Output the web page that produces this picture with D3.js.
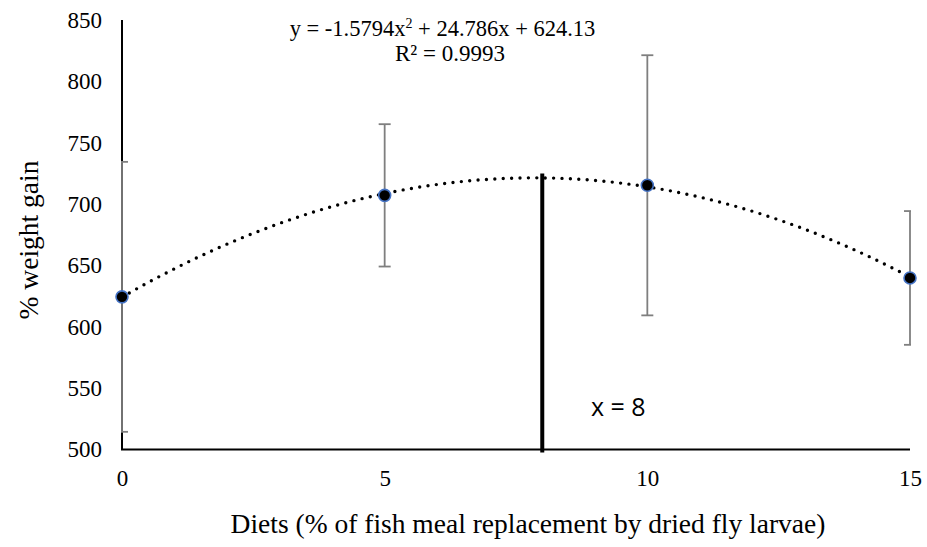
<!DOCTYPE html>
<html><head><meta charset="utf-8">
<script src="https://cdn.jsdelivr.net/npm/d3@7"></script>
<style>body{margin:0;background:#fff}svg{display:block}</style>
</head><body>
<svg id="chart" width="927" height="547"></svg>
<script>
const diets = [0, 5, 10, 15];
const weightGain = [624.4, 707.1, 715.3, 639.8];
const errorSD = [110, 58, 106, 54.5];
const xTicks = [0, 5, 10, 15];
const yTicks = [500, 550, 600, 650, 700, 750, 800, 850];
const trendCoef = [-1.5794, 24.786, 624.13];
const optimumX = 8;
const eqText = "y = -1.5794x";
const r2Text = "R² = 0.9993";

const svg = d3.select("#chart");
const x = d3.scaleLinear().domain([0, 15]).range([122, 910]);
const y = d3.scaleLinear().domain([500, 850]).range([449.5, 20]);
const serif = "'Liberation Serif','Times New Roman',serif";

svg.append("defs").append("clipPath").attr("id", "plotclip").append("rect")
  .attr("x", x(0) - 1).attr("y", 0).attr("width", x(15) - x(0) + 2).attr("height", 547);

// y tick labels
const yAxis = d3.axisLeft(y).tickValues(yTicks).tickSize(0).tickPadding(20);
const gy = svg.append("g").attr("transform", "translate(122,0)").call(yAxis);
gy.select(".domain").remove();
gy.selectAll("text").attr("font-family", serif).attr("font-size", 23).attr("fill", "#000");

// x tick labels
const xAxis = d3.axisBottom(x).tickValues(xTicks).tickSize(0).tickPadding(20);
const gx = svg.append("g").attr("transform", "translate(0,449.5)").call(xAxis);
gx.select(".domain").remove();
gx.selectAll("text").attr("font-family", serif).attr("font-size", 23).attr("fill", "#000");

// axes lines
svg.append("line").attr("x1", x(0)).attr("x2", x(0)).attr("y1", y(850)).attr("y2", y(500))
  .attr("stroke", "#000").attr("stroke-width", 2);
svg.append("line").attr("x1", x(0) - 1).attr("x2", x(15)).attr("y1", y(500)).attr("y2", y(500))
  .attr("stroke", "#000").attr("stroke-width", 2);

// vertical optimum line
const trend = v => trendCoef[0] * v * v + trendCoef[1] * v + trendCoef[2];
svg.append("line").attr("x1", x(optimumX)).attr("x2", x(optimumX))
  .attr("y1", y(trend(optimumX)) - 4.5).attr("y2", y(500) + 3)
  .attr("stroke", "#000").attr("stroke-width", 4);

// error bars
const eb = svg.append("g").attr("stroke", "#7f7f7f").attr("stroke-width", 1.8)
  .attr("clip-path", "url(#plotclip)");
diets.forEach((d, i) => {
  const cx = x(d), top = y(weightGain[i] + errorSD[i]), bot = y(weightGain[i] - errorSD[i]);
  eb.append("line").attr("x1", cx).attr("x2", cx).attr("y1", top).attr("y2", bot);
  eb.append("line").attr("x1", cx - 6).attr("x2", cx + 6).attr("y1", top).attr("y2", top);
  eb.append("line").attr("x1", cx - 6).attr("x2", cx + 6).attr("y1", bot).attr("y2", bot);
});

// trendline
const xs = d3.range(0, 15.001, 0.1);
svg.append("path").datum(xs)
  .attr("d", d3.line().x(v => x(v)).y(v => y(trend(v))))
  .attr("fill", "none").attr("stroke", "#000").attr("stroke-width", 3.4)
  .attr("stroke-linecap", "round").attr("stroke-dasharray", "0 8.4");

// points
svg.append("g").selectAll("circle").data(diets).join("circle")
  .attr("cx", d => x(d)).attr("cy", (d, i) => y(weightGain[i])).attr("r", 6)
  .attr("fill", "#000").attr("stroke", "#4472C4").attr("stroke-width", 1.6);

// equation
const eq = svg.append("text").attr("x", 442.5).attr("y", 36).attr("text-anchor", "middle")
  .attr("font-family", serif).attr("font-size", 22.5).attr("fill", "#000");
eq.append("tspan").text(eqText);
eq.append("tspan").attr("dy", -8).attr("font-size", 14).text("2");
eq.append("tspan").attr("dy", 8).text(" + 24.786x + 624.13");
svg.append("text").attr("x", 450).attr("y", 61).attr("text-anchor", "middle")
  .attr("font-family", serif).attr("font-size", 23).attr("fill", "#000").text(r2Text);

// x = 8 label
svg.append("text").attr("x", 591).attr("y", 416)
  .attr("font-family", "'Open Sans','Liberation Sans',sans-serif").attr("font-size", 25)
  .attr("fill", "#000").text("x = 8");

// axis titles
svg.append("text").attr("x", 528).attr("y", 533).attr("text-anchor", "middle")
  .attr("font-family", serif).attr("font-size", 27.5).attr("fill", "#000")
  .text("Diets (% of fish meal replacement by dried fly larvae)");
svg.append("text").attr("transform", "translate(38,240) rotate(-90)").attr("text-anchor", "middle")
  .attr("font-family", serif).attr("font-size", 27.5).attr("fill", "#000")
  .text("% weight gain");
</script>
</body></html>
